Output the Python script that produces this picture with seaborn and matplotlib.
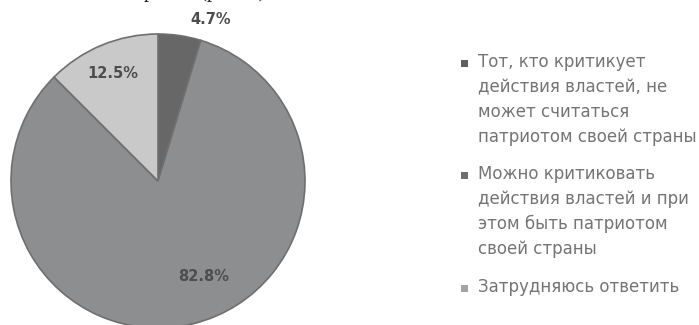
import matplotlib
matplotlib.use("Agg")
import matplotlib.pyplot as plt
import seaborn as sns
from matplotlib.patches import Rectangle

# Survey answers (share of respondents, %)
categories = [
    "Тот, кто критикует\nдействия властей, не\nможет считаться\nпатриотом своей страны",
    "Можно критиковать\nдействия властей и при\nэтом быть патриотом\nсвоей страны",
    "Затрудняюсь ответить",
]
shares = [4.7, 82.8, 12.5]
value_labels = ["4.7%", "82.8%", "12.5%"]

slice_colors = ["#676767", "#8d8e90", "#c9c9c9"]
marker_colors = ["#5e5e5e", "#6e6e6e", "#a4a4a4"]

sns.set_theme(style="white")
plt.rcParams["font.family"] = ["DejaVu Sans"]

W, H = 699, 325
fig = plt.figure(figsize=(W / 100, H / 100), dpi=100)
fig.patch.set_facecolor("white")


def fx(px):
    return px / W


def fy(py):
    return 1 - py / H


# pie: centre (158, 181) px, radius 147 px
cx, cy, r = 158, 181, 147
ax = fig.add_axes([fx(cx - r), fy(cy + r), 2 * r / W, 2 * r / H])
wedges, _ = ax.pie(
    shares,
    colors=slice_colors,
    startangle=90,
    counterclock=False,
    radius=1,
    wedgeprops=dict(edgecolor="#6f6f6f", linewidth=1.2),
)
ax.set_xlim(-1, 1)
ax.set_ylim(-1, 1)
ax.set_axis_off()

# value labels (axes data coordinates)
label_pos = [(0.36, 1.10), (0.31, -0.65), (-0.31, 0.73)]
for (lx, ly), txt, i in zip(label_pos, value_labels, range(3)):
    kw = {}
    if i == 0:
        kw["bbox"] = dict(boxstyle="square,pad=0.15", fc="white", ec="none")
    ax.text(lx, ly, txt, ha="center", va="center", fontsize=10.5,
            fontweight="bold", color="#4d4d4d", **kw)

# caption line running above the chart (only its descenders fall inside)
fig.text(fx(123), fy(-2.5), "образом (рис. 2)", family="Liberation Serif",
         fontsize=15, color="#222222", va="baseline", ha="left")

# legend
first_line_y = [63, 175, 288]
for yc, lab, col in zip(first_line_y, categories, marker_colors):
    fig.patches.append(Rectangle((fx(461), fy(yc + 3.5)), 7 / W, 7 / H,
                                 transform=fig.transFigure, facecolor=col,
                                 edgecolor="none"))
    fig.text(fx(478), fy(yc - 10), lab, ha="left", va="top", fontsize=12,
             color="#747474", linespacing=1.5)

fig.savefig("out.png", dpi=100)
